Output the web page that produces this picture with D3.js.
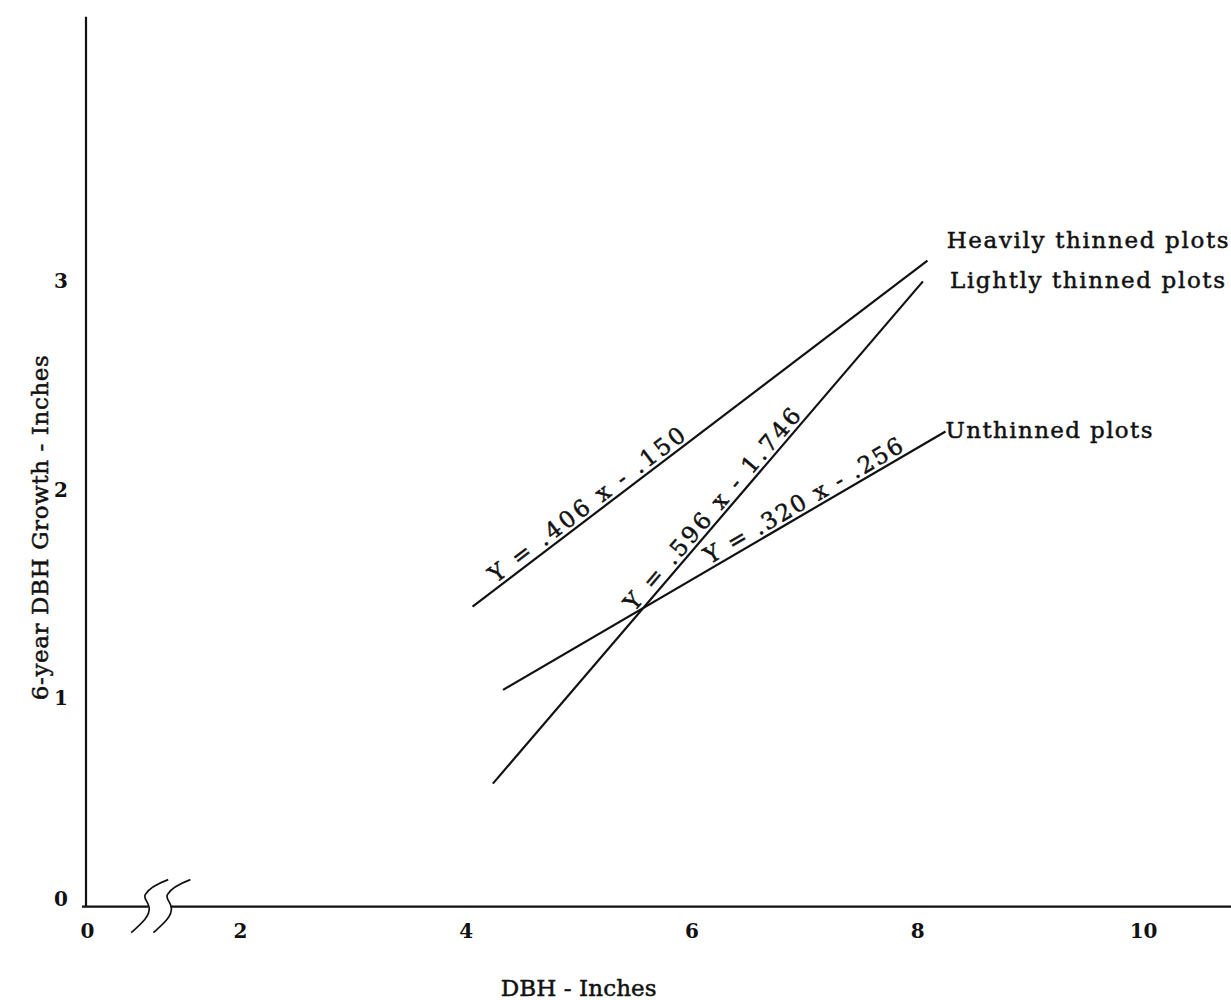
<!DOCTYPE html>
<html>
<head>
<meta charset="utf-8">
<script src="https://cdn.jsdelivr.net/npm/d3@7"></script>
<style>
  html, body { margin: 0; padding: 0; background: #fff; }
  svg { display: block; }
  text { font-family: "DejaVu Serif", "Liberation Serif", serif; fill: #111; }
  .heavy { stroke: #111; stroke-width: 0.5px; }
</style>
</head>
<body>
<svg id="chart" width="1231" height="1000"></svg>
<script>
// ---- data ----
const seriesNames = ["Heavily thinned plots", "Lightly thinned plots", "Unthinned plots"];
const equations   = ["Y = .406 x - .150", "Y = .596 x - 1.746", "Y = .320 x - .256"];
const lineStartX  = [4.06, 4.24, 4.33];
const lineStartY  = [1.44, 0.59, 1.04];
const lineEndX    = [8.09, 8.05, 8.25];
const lineEndY    = [3.10, 3.00, 2.28];
const seriesLabelX = [8.26, 8.29, 8.25];
const seriesLabelY = [3.16, 2.97, 2.25];
const equationStartX = [4.29, 5.52, 6.18];
const xTicks = [0, 2, 4, 6, 8, 10];
const yTicks = [0, 1, 2, 3];
const xBreaks = [0.8, 1.09];

// ---- scales ----
const svg = d3.select("#chart");
const x = d3.scaleLinear().domain([0, 2, 10.85]).range([87, 240, 1239]);
const y = d3.scaleLinear().domain([0, 3]).range([906.6, 281.4]);
const yTop = 4.27;

const ink = "#111";

// y axis line
svg.append("line")
  .attr("x1", x(0) - 1).attr("x2", x(0) - 1)
  .attr("y1", y(0)).attr("y2", y(yTop))
  .attr("stroke", ink).attr("stroke-width", 2.2);

// x axis line, broken
svg.append("line")
  .attr("x1", x(0) - 5).attr("x2", x(xBreaks[0]))
  .attr("y1", y(0)).attr("y2", y(0))
  .attr("stroke", ink).attr("stroke-width", 2.4);
svg.append("line")
  .attr("x1", x(xBreaks[1])).attr("x2", x(10.85))
  .attr("y1", y(0)).attr("y2", y(0))
  .attr("stroke", ink).attr("stroke-width", 2.4);

// break marks
svg.selectAll("path.brk").data(xBreaks).enter().append("path")
  .attr("class", "brk")
  .attr("transform", d => `translate(${x(d)},${y(0)})`)
  .attr("d", "M-17,26 C-8,18 2,10 1,1 C0,-5 -5,-8 -3,-12 C1,-19 12,-24 20,-27")
  .attr("fill", "none").attr("stroke", ink).attr("stroke-width", 1.7);

// x tick labels
const xAxis = d3.axisBottom(x).tickValues(xTicks).tickSize(0).tickFormat(d3.format("d"));
const gx = svg.append("g").attr("transform", `translate(0,${y(0) + 9})`).call(xAxis);
gx.select(".domain").remove();
gx.selectAll("text").attr("font-family", "DejaVu Serif").attr("font-weight", "bold")
  .attr("font-size", 20).attr("fill", ink).attr("dy", "0.95em");

// y tick labels
const yAxis = d3.axisLeft(y).tickValues(yTicks).tickSize(0).tickFormat(d3.format("d"));
const gy = svg.append("g").attr("transform", `translate(${x(0) - 16},0)`).call(yAxis);
gy.select(".domain").remove();
gy.selectAll("text").attr("font-family", "DejaVu Serif").attr("font-weight", "bold")
  .attr("font-size", 20).attr("fill", ink)
  .attr("dy", d => d === 0 ? "-0.05em" : "0.32em");

// axis titles
svg.append("text")
  .attr("class", "heavy")
  .attr("x", x(5.0)).attr("y", 996)
  .attr("text-anchor", "middle").attr("font-size", 23)
  .attr("textLength", 156).attr("lengthAdjust", "spacing")
  .text("DBH - Inches");
svg.append("text")
  .attr("class", "heavy")
  .attr("transform", `translate(48,${(y(0) + y(yTop)) / 2 + 66}) rotate(-90)`)
  .attr("text-anchor", "middle").attr("font-size", 23)
  .attr("textLength", 345).attr("lengthAdjust", "spacing")
  .text("6-year DBH Growth - Inches");

// regression lines
const lineGen = d3.line().x(d => x(d[0])).y(d => y(d[1]));
const lines = seriesNames.map((n, i) => ({
  name: n,
  pts: [[lineStartX[i], lineStartY[i]], [lineEndX[i], lineEndY[i]]]
}));
svg.selectAll("path.reg").data(lines).enter().append("path")
  .attr("class", "reg")
  .attr("d", d => lineGen(d.pts))
  .attr("fill", "none").attr("stroke", ink).attr("stroke-width", 2.2);

// series labels
const labelLengths = [282, 275, 207];
svg.selectAll("text.slabel").data(seriesNames).enter().append("text")
  .attr("class", "slabel heavy")
  .attr("x", (d, i) => x(seriesLabelX[i]))
  .attr("y", (d, i) => y(seriesLabelY[i]))
  .attr("font-size", 23)
  .attr("textLength", (d, i) => labelLengths[i]).attr("lengthAdjust", "spacing")
  .text(d => d);

// equation labels along lines
const eqLengths = [240, 258, 226];
equations.forEach((eq, i) => {
  const x0 = x(lineStartX[i]), y0 = y(lineStartY[i]);
  const x1 = x(lineEndX[i]),   y1 = y(lineEndY[i]);
  const a = Math.atan2(y1 - y0, x1 - x0);
  const t = (x(equationStartX[i]) - x0) / (x1 - x0);
  const px = x0 + t * (x1 - x0), py = y0 + t * (y1 - y0);
  const off = 4;
  const ox = px + off * Math.sin(a), oy = py - off * Math.cos(a);
  svg.append("text")
    .attr("class", "heavy")
    .attr("transform", `translate(${ox},${oy}) rotate(${a * 180 / Math.PI})`)
    .attr("font-size", 23)
    .attr("textLength", eqLengths[i]).attr("lengthAdjust", "spacing")
    .text(eq);
});
</script>
</body>
</html>
